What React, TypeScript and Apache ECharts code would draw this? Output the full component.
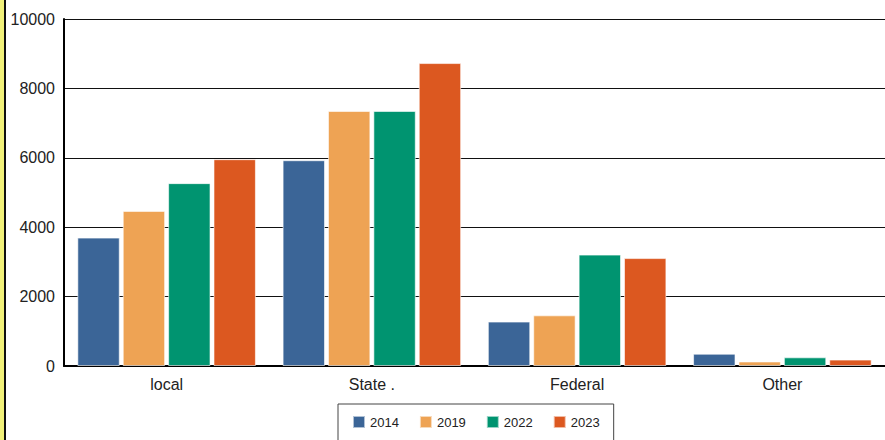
import React, { useEffect, useRef } from "react";
import * as echarts from "echarts";

const categories = ["local", "State .", "Federal", "Other"];
const years = ["2014", "2019", "2022", "2023"];
const v2014 = [3700, 5930, 1280, 354];
const v2019 = [4470, 7350, 1460, 130];
const v2022 = [5270, 7350, 3210, 250];
const v2023 = [5960, 8730, 3110, 185];
const colors = ["#3b6597", "#eea354", "#009470", "#dc5820"];

export default function App() {
  const ref = useRef<HTMLDivElement>(null);
  useEffect(() => {
    const chart = echarts.init(ref.current!, null, { renderer: "svg" });
    const all = [v2014, v2019, v2022, v2023];
    chart.setOption({
      animation: false,
      color: colors,
      textStyle: { fontFamily: "Liberation Sans, Arial, sans-serif" },
      graphic: [
        { type: "rect", left: 0, top: 0, shape: { width: 4, height: 440 }, style: { fill: "#f2f27a" } },
        { type: "rect", left: 4, top: 0, shape: { width: 2, height: 440 }, style: { fill: "#111" } },
      ],
      grid: { left: 64, right: 0, top: 19, bottom: 74 },
      legend: {
        left: 338,
        top: 404,
        data: years,
        itemWidth: 12,
        itemHeight: 12,
        itemGap: 20,
        icon: "rect",
        padding: [11, 14, 16, 14],
        borderColor: "#444",
        borderWidth: 1,
        textStyle: { fontSize: 13, color: "#222" },
      },
      xAxis: {
        type: "category",
        data: categories,
        axisLine: { lineStyle: { color: "#000", width: 2 } },
        axisTick: { show: false },
        axisLabel: { fontSize: 16, color: "#222", margin: 10 },
      },
      yAxis: {
        type: "value",
        min: 0,
        max: 10000,
        interval: 2000,
        axisLine: { show: true, lineStyle: { color: "#000", width: 2 } },
        axisTick: { show: false },
        splitLine: { lineStyle: { color: "#111", width: 1 } },
        axisLabel: { fontSize: 16, color: "#222", margin: 9, formatter: (v: number) => String(v) },
      },
      series: years.map((y, i) => ({
        name: y,
        type: "bar",
        data: all[i],
        barGap: "7%",
        barCategoryGap: "13%",
        itemStyle: { borderColor: "rgba(255,255,255,0.6)", borderWidth: 1 },
      })),
    });
    return () => chart.dispose();
  }, []);
  return <div ref={ref} style={{ width: 885, height: 440, position: "absolute", left: 0, top: 0 }} />;
}
